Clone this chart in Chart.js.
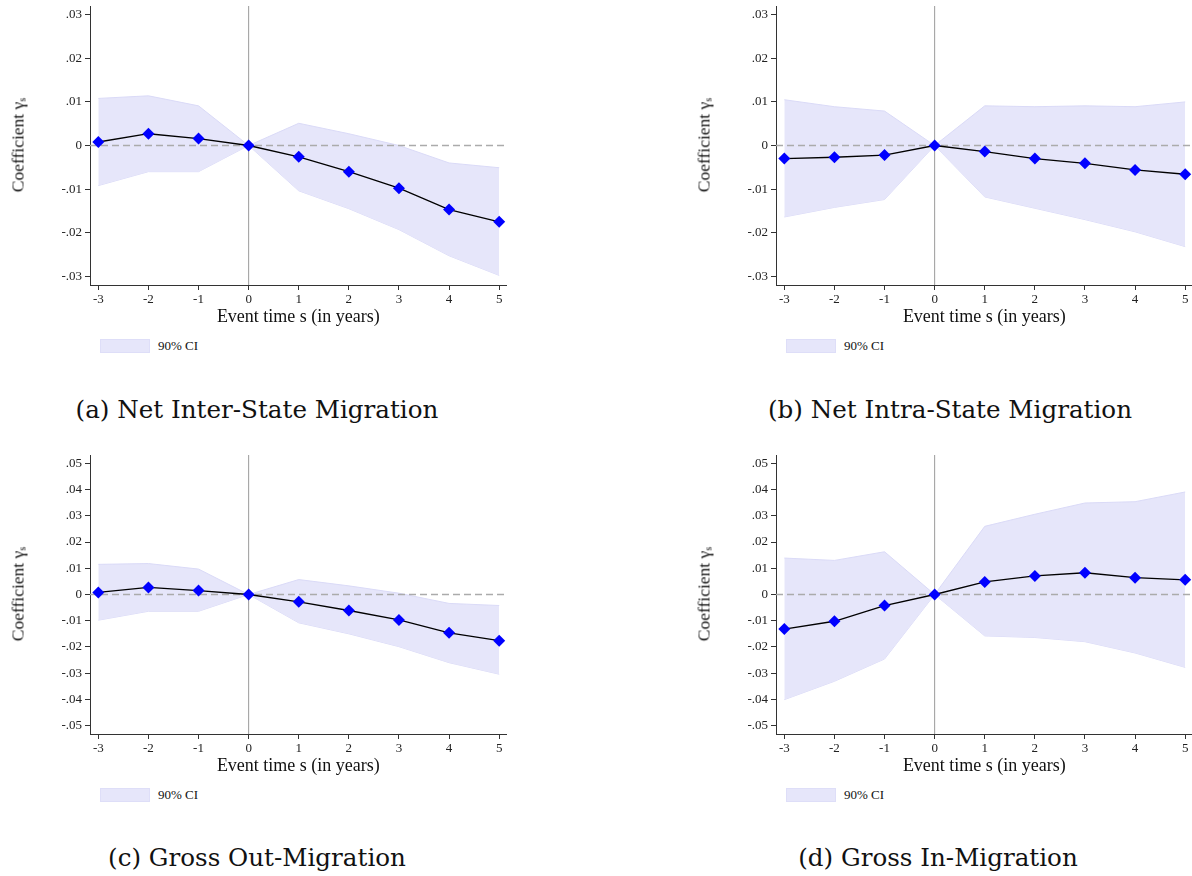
<!DOCTYPE html>
<html><head><meta charset="utf-8">
<script src="https://cdn.jsdelivr.net/npm/chart.js@4.4.0/dist/chart.umd.min.js"></script>
<style>
html,body{margin:0;padding:0;background:#fff;}
body{width:1192px;height:876px;overflow:hidden;position:relative;}
.panel{position:absolute;width:520px;height:370px;}
.panel canvas{position:absolute;left:0;top:0;}
.ytitle{position:absolute;left:18px;top:145px;font-family:"Liberation Serif";font-size:17.5px;color:#111;transform:translate(-50%,-50%) rotate(-90deg);white-space:nowrap;}
.ytitle sub{font-size:60%;vertical-align:-2px;}
.lgbox{position:absolute;left:100px;top:339px;width:48px;height:12px;background:#e6e6fa;border:1px solid #dedef8;}
.lgtext{position:absolute;left:158px;top:338px;font-family:"Liberation Serif";font-size:13px;line-height:16px;color:#111;white-space:nowrap;}
.caption{position:absolute;font-family:"DejaVu Serif";font-size:24.6px;color:#111;transform:translate(-50%,-50%);white-space:nowrap;}
</style>
</head><body>

<div class="panel" id="pa" style="left:0;top:0"></div>
<div class="panel" id="pb" style="left:686px;top:0"></div>
<div class="panel" id="pc" style="left:0;top:449px"></div>
<div class="panel" id="pd" style="left:686px;top:449px"></div>

<div class="caption" style="left:257px;top:409px">(a) Net Inter-State Migration</div>
<div class="caption" style="left:950px;top:409px">(b) Net Intra-State Migration</div>
<div class="caption" style="left:257px;top:857px">(c) Gross Out-Migration</div>
<div class="caption" style="left:938px;top:857px">(d) Gross In-Migration</div>

<script>
// ---------------- data ----------------
const eventTime = [-3, -2, -1, 0, 1, 2, 3, 4, 5];
const xTicks = [-3, -2, -1, 0, 1, 2, 3, 4, 5];
const yTicksNet = [-0.03, -0.02, -0.01, 0, 0.01, 0.02, 0.03];
const yTicksGross = [-0.05, -0.04, -0.03, -0.02, -0.01, 0, 0.01, 0.02, 0.03, 0.04, 0.05];

// (a) Net Inter-State Migration
const interCoef  = [0.0008, 0.0027, 0.0016, 0, -0.0026, -0.0060, -0.0098, -0.0147, -0.0175];
const interUpper = [0.0108, 0.0114, 0.0091, 0, 0.0051, 0.0027, 0.0000, -0.0040, -0.0051];
const interLower = [-0.0092, -0.0060, -0.0060, 0, -0.0104, -0.0145, -0.0193, -0.0253, -0.0298];

// (b) Net Intra-State Migration
const intraCoef  = [-0.0030, -0.0027, -0.0022, 0, -0.0014, -0.0030, -0.0041, -0.0056, -0.0066];
const intraUpper = [0.0105, 0.0089, 0.0079, 0, 0.0091, 0.0089, 0.0091, 0.0089, 0.0100];
const intraLower = [-0.0164, -0.0142, -0.0124, 0, -0.0118, -0.0144, -0.0170, -0.0198, -0.0232];

// (c) Gross Out-Migration
const outCoef  = [0.0008, 0.0027, 0.0015, 0, -0.0028, -0.0061, -0.0097, -0.0146, -0.0176];
const outUpper = [0.0115, 0.0118, 0.0097, 0, 0.0057, 0.0033, 0.0005, -0.0034, -0.0042];
const outLower = [-0.0098, -0.0064, -0.0064, 0, -0.0108, -0.0150, -0.0199, -0.0260, -0.0304];

// (d) Gross In-Migration
const inCoef  = [-0.0132, -0.0102, -0.0042, 0, 0.0048, 0.0071, 0.0083, 0.0064, 0.0056];
const inUpper = [0.0139, 0.0130, 0.0163, 0, 0.0260, 0.0306, 0.0349, 0.0354, 0.0391];
const inLower = [-0.0401, -0.0331, -0.0246, 0, -0.0158, -0.0164, -0.0180, -0.0223, -0.0278];

const ciLabel = '90% CI';
const yTitle = 'Coefficient γ<sub>s</sub>';
const xTitle = 'Event time s (in years)';
const zeroLine = 0;
const eventLine = 0;

// ---------------- rendering ----------------
Chart.defaults.font.family = '"Liberation Serif", "Times New Roman", serif';
Chart.defaults.color = '#222';

const bandFill = '#e6e6fa';
const bandEdge = '#dadaf7';

const refLines = {
  id: 'refLines',
  afterDatasetDraw(chart, args) {
    if (args.index !== 1) return;
    const {ctx, chartArea: a, scales: {x, y}} = chart;
    ctx.save();
    const py = y.getPixelForValue(zeroLine);
    ctx.strokeStyle = '#ababab';
    ctx.lineWidth = 1.4;
    ctx.setLineDash([7, 4]);
    ctx.beginPath(); ctx.moveTo(a.left, py); ctx.lineTo(a.right, py); ctx.stroke();
    ctx.setLineDash([]);
    const px = x.getPixelForValue(eventLine);
    ctx.strokeStyle = '#9a9a9a';
    ctx.lineWidth = 1;
    ctx.beginPath(); ctx.moveTo(px, a.top); ctx.lineTo(px, a.bottom); ctx.stroke();
    ctx.restore();
  }
};

function fmtY(v) {
  if (Math.abs(v) < 1e-9) return '0';
  return (v < 0 ? '-' : '') + Math.abs(v).toFixed(2).replace(/^0/, '');
}

function pts(arr) { return eventTime.map((t, i) => ({x: t, y: arr[i]})); }

function makePanel(id, coef, upper, lower, yTicks, yLim) {
  const host = document.getElementById(id);
  const cv = document.createElement('canvas');
  cv.width = 520; cv.height = 330;
  cv.style.width = '520px'; cv.style.height = '330px';
  host.appendChild(cv);

  const yt = document.createElement('div');
  yt.className = 'ytitle'; yt.innerHTML = yTitle; host.appendChild(yt);
  const lb = document.createElement('div'); lb.className = 'lgbox'; host.appendChild(lb);
  const lt = document.createElement('div'); lt.className = 'lgtext'; lt.textContent = ciLabel; host.appendChild(lt);

  new Chart(cv, {
    type: 'line',
    data: {
      datasets: [
        {
          label: 'Coefficient', data: pts(coef),
          borderColor: '#000', borderWidth: 1.3, tension: 0, fill: false,
          pointStyle: 'rectRot', pointRadius: 6, pointHoverRadius: 6,
          pointBackgroundColor: '#0000ff', pointBorderColor: '#0000ff', pointBorderWidth: 0
        },
        {
          label: ciLabel, data: pts(upper),
          borderColor: bandEdge, borderWidth: 1, backgroundColor: bandFill,
          fill: '+1', pointRadius: 0, tension: 0
        },
        {
          label: ciLabel + ' lower', data: pts(lower),
          borderColor: bandEdge, borderWidth: 1, backgroundColor: bandFill,
          fill: false, pointRadius: 0, tension: 0
        }
      ]
    },
    options: {
      responsive: false, animation: false, devicePixelRatio: 1,
      layout: {padding: {left: 0, right: 13.3, top: 6, bottom: 0}},
      plugins: {legend: {display: false}, tooltip: {enabled: false}},
      events: [],
      scales: {
        x: {
          type: 'linear', min: -3.166, max: 5.15,
          afterBuildTicks: s => { s.ticks = xTicks.map(v => ({value: v})); },
          afterFit: s => { s.height = 45; s.paddingLeft = 0; s.paddingRight = 0; },
          ticks: {font: {size: 13}, color: '#222', padding: 2, maxRotation: 0, callback: v => String(v)},
          grid: {display: true, drawOnChartArea: false, drawTicks: true, tickLength: 5, tickColor: '#333', color: '#333'},
          border: {display: true, color: '#333', width: 1},
          title: {display: true, text: xTitle, font: {size: 18}, color: '#111', padding: {top: 0, bottom: 2}}
        },
        y: {
          type: 'linear', min: -yLim, max: yLim,
          afterBuildTicks: s => { s.ticks = yTicks.map(v => ({value: v})); },
          afterFit: s => { s.width = 90; s.paddingTop = 0; s.paddingBottom = 0; },
          ticks: {font: {size: 13}, color: '#222', padding: 3, callback: v => fmtY(v)},
          grid: {display: true, drawOnChartArea: false, drawTicks: true, tickLength: 5, tickColor: '#333', color: '#333'},
          border: {display: true, color: '#333', width: 1}
        }
      }
    },
    plugins: [refLines]
  });
}

makePanel('pa', interCoef, interUpper, interLower, yTicksNet, 0.032);
makePanel('pb', intraCoef, intraUpper, intraLower, yTicksNet, 0.032);
makePanel('pc', outCoef, outUpper, outLower, yTicksGross, 0.0532);
makePanel('pd', inCoef, inUpper, inLower, yTicksGross, 0.0532);
</script>
</body></html>
